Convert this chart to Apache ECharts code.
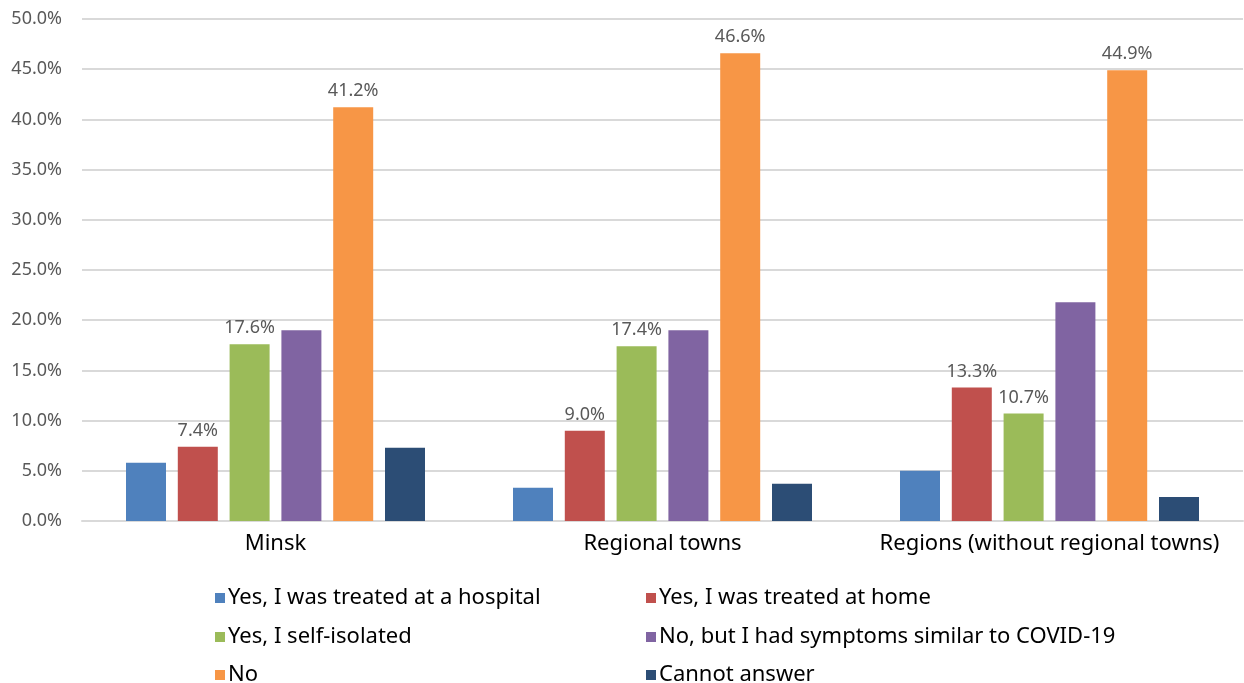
<!DOCTYPE html>
<html>
<head>
<meta charset="utf-8">
<script src="https://cdn.jsdelivr.net/npm/echarts@6/dist/echarts.min.js"></script>
<style>html,body{margin:0;padding:0;background:#fff;}#c{width:1244px;height:683px;}</style>
</head>
<body>
<div id="c"></div>
<script>
const categories = ['Minsk', 'Regional towns', 'Regions (without regional towns)'];
const seriesNames = ['Yes, I was treated at a hospital', 'Yes, I was treated at home', 'Yes, I self-isolated', 'No, but I had symptoms similar to COVID-19', 'No', 'Cannot answer'];
const hospital = [5.8, 3.3, 5.0];
const home = [7.4, 9.0, 13.3];
const selfIsolated = [17.6, 17.4, 10.7];
const symptoms = [19.0, 19.0, 21.8];
const no = [41.2, 46.6, 44.9];
const cannot = [7.3, 3.7, 2.4];
const colors = ['#4F81BD', '#C0504D', '#9BBB59', '#8064A2', '#F79646', '#2C4D75'];
const showLabel = [false, true, true, false, true, false];
const values = [hospital, home, selfIsolated, symptoms, no, cannot];

const chart = echarts.init(document.getElementById('c'));
const font = '"Noto Sans", sans-serif';
const legendPos = [[210, 582], [641, 582], [210, 621], [641, 621], [210, 659], [641, 659]];
chart.setOption({
  animation: false,
  color: colors,
  grid: { left: 82, right: 1, top: 19, bottom: 162, containLabel: false },
  legend: seriesNames.map((n, i) => ({
    data: [n], left: legendPos[i][0], top: legendPos[i][1], itemWidth: 10, itemHeight: 10, icon: 'rect', itemGap: 0,
    textStyle: { fontSize: 22, color: '#000', fontFamily: font, padding: [0, 0, 0, -2] }
  })),
  xAxis: {
    type: 'category', data: categories,
    axisLine: { lineStyle: { color: '#d9d9d9', width: 2 } },
    axisTick: { show: false },
    axisLabel: { interval: 0, fontSize: 22, color: '#000', fontFamily: font, margin: 12 }
  },
  yAxis: {
    type: 'value', min: 0, max: 50, interval: 5,
    axisLine: { show: false }, axisTick: { show: false },
    splitLine: { lineStyle: { color: '#d9d9d9', width: 2 } },
    axisLabel: { fontSize: 18, color: '#595959', fontFamily: font, margin: 20, formatter: v => v.toFixed(1) + '%' }
  },
  series: values.map((d, i) => ({
    name: seriesNames[i], type: 'bar', data: d, barWidth: 40, barGap: '29.5%',
    label: { show: showLabel[i], position: 'top', distance: 7, fontSize: 18, color: '#595959', fontFamily: font, formatter: p => p.value.toFixed(1) + '%' }
  }))
});
</script>
</body>
</html>
